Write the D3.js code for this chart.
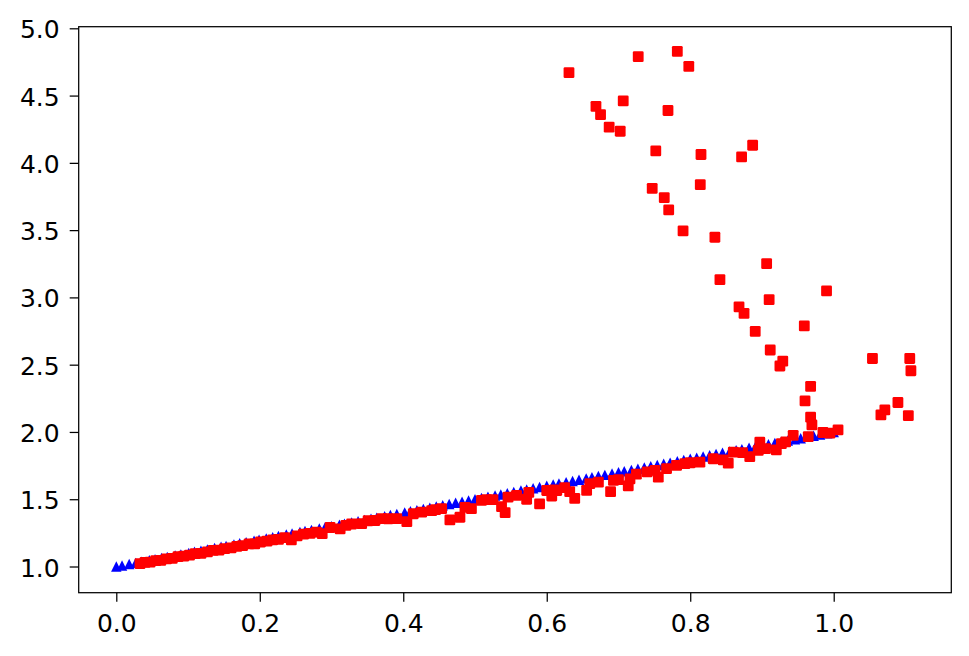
<!DOCTYPE html>
<html>
<head>
<meta charset="utf-8">
<script src="https://cdn.jsdelivr.net/npm/d3@7"></script>
<style>
  html, body { margin: 0; padding: 0; background: #ffffff; }
  svg { display: block; font-family: "DejaVu Sans", sans-serif; }
</style>
</head>
<body>
<svg id="chart" width="969" height="656"></svg>
<script>
// ---- data ----
const xTicks = [0.0, 0.2, 0.4, 0.6, 0.8, 1.0];
const yTicks = [1.0, 1.5, 2.0, 2.5, 3.0, 3.5, 4.0, 4.5, 5.0];

const blueX = [0.000,0.008,0.018,0.027,0.035,0.046,0.054,0.063,0.071,0.082,
  0.090,0.101,0.109,0.118,0.127,0.137,0.146,0.153,0.164,0.172,
  0.181,0.192,0.199,0.209,0.218,0.226,0.237,0.245,0.256,0.263,
  0.272,0.283,0.291,0.300,0.311,0.318,0.328,0.337,0.346,0.355,
  0.363,0.374,0.382,0.391,0.402,0.410,0.419,0.428,0.437,0.446,
  0.455,0.464,0.473,0.482,0.491,0.500,0.509,0.518,0.528,0.536,
  0.545,0.554,0.564,0.572,0.581,0.590,0.600,0.609,0.617,0.627,
  0.636,0.645,0.655,0.663,0.672,0.681,0.691,0.700,0.708,0.718,
  0.727,0.736,0.745,0.754,0.763,0.772,0.782,0.791,0.800,0.809,
  0.818,0.827,0.836,0.845,0.855,0.864,0.872,0.882,0.891,0.900,
  0.909,0.918,0.927,0.936,0.946,0.954,0.964,0.972,0.981,0.991,1.000];
const blueY = [1.000,1.008,1.018,1.027,1.035,1.046,1.054,1.063,1.071,1.082,
  1.090,1.101,1.109,1.118,1.127,1.137,1.146,1.153,1.164,1.172,
  1.181,1.192,1.199,1.209,1.218,1.226,1.237,1.245,1.256,1.263,
  1.272,1.283,1.291,1.300,1.311,1.318,1.328,1.337,1.346,1.355,
  1.363,1.374,1.382,1.391,1.402,1.410,1.419,1.428,1.437,1.446,
  1.455,1.464,1.473,1.482,1.491,1.500,1.509,1.518,1.528,1.536,
  1.545,1.554,1.564,1.572,1.581,1.590,1.600,1.609,1.617,1.627,
  1.636,1.645,1.655,1.663,1.672,1.681,1.691,1.700,1.708,1.718,
  1.727,1.736,1.745,1.754,1.763,1.772,1.782,1.791,1.800,1.809,
  1.818,1.827,1.836,1.845,1.855,1.864,1.872,1.882,1.891,1.900,
  1.909,1.918,1.927,1.936,1.946,1.954,1.964,1.972,1.981,1.991,2.000];

const redX = [
  0.033,0.040,0.047,0.055,0.062,0.070,0.078,0.086,0.094,0.102,
  0.110,0.118,0.127,0.135,0.143,0.151,0.160,0.168,0.176,0.185,
  0.193,0.201,0.210,0.218,0.226,0.235,0.244,0.252,0.261,0.270,
  0.279,0.287,
  0.298,0.312,0.320,0.328,0.342,0.351,0.3605,0.370,0.379,0.391,
  0.405,0.414,0.4256,0.4396,0.445,0.4535,0.465,0.479,0.486,0.495,
  0.509,0.516,0.525,0.537,0.542,0.546,0.558,0.572,0.575,0.590,
  0.600,0.607,0.611,
  0.614,0.625,0.632,0.639,0.6556,0.660,0.672,0.689,0.693,0.700,
  0.7136,0.716,0.725,0.740,0.751,0.7555,0.767,0.781,0.7925,0.800,
  0.8135,0.832,0.846,0.853,0.860,0.873,0.883,0.8948,0.897,0.905,
  0.920,0.927,0.933,0.9435,0.9645,0.985,0.9947,1.006,
  0.631,0.7275,0.782,0.798,0.7066,0.6686,0.675,0.687,0.7024,0.769,
  0.752,0.815,0.887,0.8716,0.814,0.747,0.7638,0.770,0.790,0.8344,
  0.9065,0.8414,0.990,0.910,0.868,0.875,0.959,0.8906,0.9115,0.929,
  0.925,1.054,1.106,1.1076,0.9678,0.960,1.0895,1.0713,1.0658,1.104,
  0.9678,0.9696];
const redY = [
  1.022,1.030,1.032,1.044,1.046,1.057,1.060,1.073,1.077,1.085,
  1.095,1.098,1.108,1.120,1.122,1.133,1.138,1.150,1.155,1.168,
  1.168,1.182,1.188,1.198,1.202,1.214,1.198,1.228,1.240,1.246,
  1.255,1.245,
  1.290,1.280,1.306,1.316,1.318,1.340,1.342,1.356,1.355,1.356,
  1.333,1.392,1.404,1.416,1.422,1.430,1.346,1.366,1.440,1.430,
  1.492,1.497,1.497,1.445,1.400,1.515,1.528,1.500,1.551,1.465,
  1.565,1.524,1.570,
  1.565,1.586,1.556,1.507,1.566,1.616,1.627,1.556,1.640,1.646,
  1.599,1.652,1.686,1.704,1.714,1.664,1.727,1.751,1.764,1.771,
  1.776,1.801,1.792,1.768,1.850,1.846,1.817,1.863,1.925,1.876,
  1.867,1.913,1.926,1.974,1.966,1.996,1.991,2.016,
  4.670,4.789,4.828,4.717,4.461,4.419,4.359,4.265,4.235,4.389,
  4.089,4.062,4.131,4.045,3.838,3.811,3.742,3.650,3.494,3.447,
  3.251,3.132,3.048,2.983,2.929,2.881,2.789,2.747,2.609,2.527,
  2.490,2.546,2.546,2.455,2.338,2.231,2.219,2.164,2.127,2.122,
  2.110,2.053];

// ---- layout ----
const svg = d3.select("#chart");
const L = 78.7, R = 951.3, T = 26.7, B = 592.7;
const x = d3.scaleLinear().domain([-0.0524, 1.1639]).range([L, R]);
const y = d3.scaleLinear().domain([0.8053, 5.0119]).range([B, T]);

const bluePts = d3.zip(blueX, blueY);
const redPts = d3.zip(redX, redY);

// matplotlib-like '^' marker (bbox-centred)
const triUp = { draw(ctx, size) { const h = Math.sqrt(size) / 2;
  ctx.moveTo(0, -h); ctx.lineTo(h, h); ctx.lineTo(-h, h); ctx.closePath(); } };

const plot = svg.append("g");
plot.selectAll("path.blue").data(bluePts).join("path")
  .attr("class", "blue")
  .attr("d", d3.symbol().type(triUp).size(110))
  .attr("transform", d => `translate(${x(d[0])},${y(d[1])})`)
  .attr("fill", "#0000ff");

const sq = 10.8;
plot.selectAll("rect.red").data(redPts).join("rect")
  .attr("class", "red")
  .attr("x", d => x(d[0]) - sq / 2)
  .attr("y", d => y(d[1]) - sq / 2)
  .attr("width", sq).attr("height", sq)
  .attr("rx", 1.3)
  .attr("fill", "#ff0000");

// ---- axes ----
const fs = 25;
const xAxis = svg.append("g").attr("transform", `translate(0,${B})`)
  .call(d3.axisBottom(x).tickValues(xTicks).tickFormat(d3.format(".1f"))
    .tickSize(9).tickSizeOuter(0).tickPadding(12.5));
const yAxis = svg.append("g").attr("transform", `translate(${L},0)`)
  .call(d3.axisLeft(y).tickValues(yTicks).tickFormat(d3.format(".1f"))
    .tickSize(9).tickSizeOuter(0).tickPadding(10));
[xAxis, yAxis].forEach(g => {
  g.select(".domain").remove();
  g.selectAll(".tick line").attr("stroke", "#000").attr("stroke-width", 1.25);
  g.selectAll(".tick text").attr("fill", "#000")
    .style("font-family", "'DejaVu Sans', sans-serif").style("font-size", fs + "px");
});
yAxis.selectAll(".tick text").attr("dy", "0.38em");

// frame
svg.append("rect").attr("x", L).attr("y", T)
  .attr("width", R - L).attr("height", B - T)
  .attr("fill", "none").attr("stroke", "#000").attr("stroke-width", 1.25);
</script>
</body>
</html>
